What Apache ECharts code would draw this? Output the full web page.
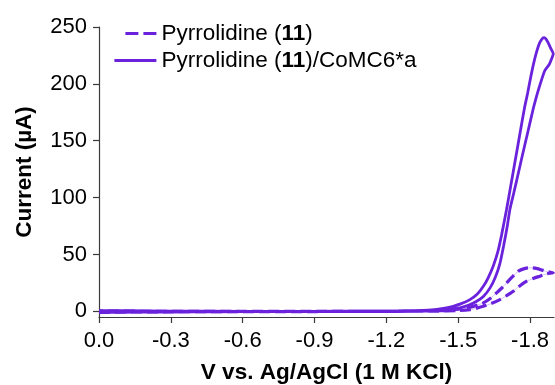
<!DOCTYPE html>
<html>
<head>
<meta charset="utf-8">
<script src="https://cdn.jsdelivr.net/npm/echarts@6/dist/echarts.min.js"></script>
<style>html,body{margin:0;padding:0;background:#fff}#c{width:555px;height:385px}</style>
</head>
<body>
<div id="c"></div>
<script>
// Tick labels
const xTicks = [0, -0.3, -0.6, -0.9, -1.2, -1.5, -1.8];
const yTicks = [0, 50, 100, 150, 200, 250];

// Series names
const seriesNames = ['Pyrrolidine (11)', 'Pyrrolidine (11)/CoMC6*a'];

// Pyrrolidine (11) — dashed CV loop (V vs Ag/AgCl, µA)
const pyrV = [0, -0.1, -0.3, -0.6, -0.9, -1.2, -1.35, -1.45, -1.5, -1.535, -1.57, -1.605, -1.635, -1.66, -1.682, -1.702, -1.727, -1.751, -1.78, -1.807, -1.83, -1.85, -1.869, -1.897,
              -1.87, -1.841, -1.815, -1.786, -1.758, -1.73, -1.70, -1.674, -1.64, -1.605, -1.575, -1.549, -1.5, -1.4, -1.2, -0.9, -0.6, -0.3, 0];
const pyrI = [-0.8, -0.6, -0.4, -0.3, -0.2, 0, 0.3, 0.8, 1.8, 3, 4.8, 7.4, 11.5, 16.2, 20.5, 25, 30.5, 35.3, 37.8, 38.3, 37.5, 36.2, 35, 33.9,
              33, 30.9, 29, 26.5, 22.5, 17.6, 13.5, 10.3, 7, 4.4, 2.6, 1.5, 0.6, 0.2, 0, 0, 0, 0, 0.2];

// Pyrrolidine (11)/CoMC6*a — solid CV loop
const coV = [0, -0.05, -0.15, -0.3, -0.5, -0.7, -0.9, -1.1, -1.2, -1.3, -1.35, -1.40, -1.424, -1.45, -1.479, -1.51, -1.549, -1.58, -1.605, -1.625, -1.646, -1.665, -1.681, -1.702, -1.72, -1.74, -1.76, -1.776, -1.79, -1.80, -1.815, -1.827, -1.84, -1.852, -1.859, -1.866, -1.876, -1.887, -1.897,
             -1.89, -1.88, -1.862, -1.848, -1.834, -1.823, -1.813, -1.79, -1.77, -1.75, -1.732, -1.716, -1.705, -1.69, -1.674, -1.655, -1.633, -1.605, -1.577, -1.545, -1.507, -1.47, -1.42, -1.35, -1.25, -1.1, -0.9, -0.6, -0.3, -0.1, 0];
const coI = [-1.2, -1.0, -0.8, -0.6, -0.4, -0.3, -0.2, 0, 0.1, 0.4, 0.8, 1.5, 2.1, 3.0, 4.4, 6.5, 10.3, 15.2, 22, 29.5, 39.7, 52, 67, 89.7, 111, 135, 159, 178, 192, 203, 218, 228, 236, 240, 240.6, 239.5, 236, 231, 226.5,
             222, 217, 211.8, 203.5, 194, 186, 177.9, 157, 139, 120.5, 104, 89.7, 75, 58, 42, 30, 20.6, 13, 8.8, 5.5, 3, 2, 1.2, 0.6, 0.3, 0.1, 0, 0, 0.2, 0.5, 0.5];

const pairs = (v, i) => v.map((x, k) => [x, i[k]]);
const COLOR = '#6a22dc';
const FONT = "'Liberation Sans', Arial, sans-serif";

const chart = echarts.init(document.getElementById('c'), null, {renderer: 'canvas'});
chart.setOption({
  animation: false,
  grid: {left: 99, right: 1, top: 27, bottom: 68, containLabel: false, outerBoundsMode: 'none'},
  legend: {
    orient: 'vertical', left: 108, top: 17, itemWidth: 42, itemHeight: 14, itemGap: 4,
    selectedMode: false,
    itemStyle: {opacity: 0},
    data: [
      {name: seriesNames[0], itemStyle: {opacity: 0}, lineStyle: {type: [13, 5, 13, 11], dashOffset: 31, width: 2.8, color: COLOR}},
      {name: seriesNames[1], itemStyle: {opacity: 0}, lineStyle: {width: 2.8, color: COLOR}}
    ],
    formatter: function (name) {
      const i = name.indexOf('11');
      return '{n|' + name.slice(0, i) + '}{b|11}{n|' + name.slice(i + 2) + '}';
    },
    textStyle: {
      fontFamily: FONT, fontSize: 22.5, color: '#000', lineHeight: 22,
      rich: {
        n: {fontFamily: FONT, fontSize: 22.5, color: '#000', lineHeight: 22},
        b: {fontFamily: FONT, fontSize: 22.5, color: '#000', fontWeight: 'bold', lineHeight: 22}
      }
    }
  },
  xAxis: {
    type: 'value', inverse: true, min: -1.9, max: 0,
    name: 'V vs. Ag/AgCl (1 M KCl)', nameLocation: 'middle', nameGap: 44,
    nameTextStyle: {fontFamily: FONT, fontSize: 22.5, fontWeight: 'bold', color: '#000'},
    axisLine: {onZero: false, lineStyle: {color: '#3a3a3a', width: 1.2}},
    axisTick: {show: true, inside: false, length: 6, customValues: xTicks, lineStyle: {color: '#3a3a3a', width: 1.2}},
    axisLabel: {customValues: xTicks, margin: 13, fontFamily: FONT, fontSize: 22, color: '#000',
      formatter: v => (Math.abs(v) < 1e-9 ? '0.0' : v.toFixed(1))},
    splitLine: {show: false}
  },
  yAxis: {
    type: 'value', min: -5, max: 250,
    name: 'Current (µA)', nameLocation: 'middle', nameGap: 63,
    nameTextStyle: {fontFamily: FONT, fontSize: 22.5, fontWeight: 'bold', color: '#000'},
    axisLine: {show: true, onZero: false, lineStyle: {color: '#3a3a3a', width: 1.2}},
    axisTick: {show: true, inside: false, length: 6, customValues: yTicks, lineStyle: {color: '#3a3a3a', width: 1.2}},
    axisLabel: {customValues: yTicks, margin: 12, fontFamily: FONT, fontSize: 22, color: '#000'},
    splitLine: {show: false}
  },
  series: [
    {
      name: seriesNames[1], type: 'line', data: pairs(coV, coI), showSymbol: false, symbol: 'none',
      smooth: 0.2, lineStyle: {color: COLOR, width: 2.8}, itemStyle: {color: COLOR}, z: 3
    },
    {
      name: 'connector', type: 'line', data: pairs(pyrV, pyrI), showSymbol: false, symbol: 'none',
      smooth: 0.2, lineStyle: {color: '#c7aef3', width: 0.8}, z: 2, silent: true
    },
    {
      name: seriesNames[0], type: 'line', data: pairs(pyrV, pyrI), showSymbol: false, symbol: 'none',
      smooth: 0.2, lineStyle: {color: COLOR, width: 3.2, type: [11, 5]}, itemStyle: {color: COLOR}, z: 4
    }
  ]
});
</script>
</body>
</html>
